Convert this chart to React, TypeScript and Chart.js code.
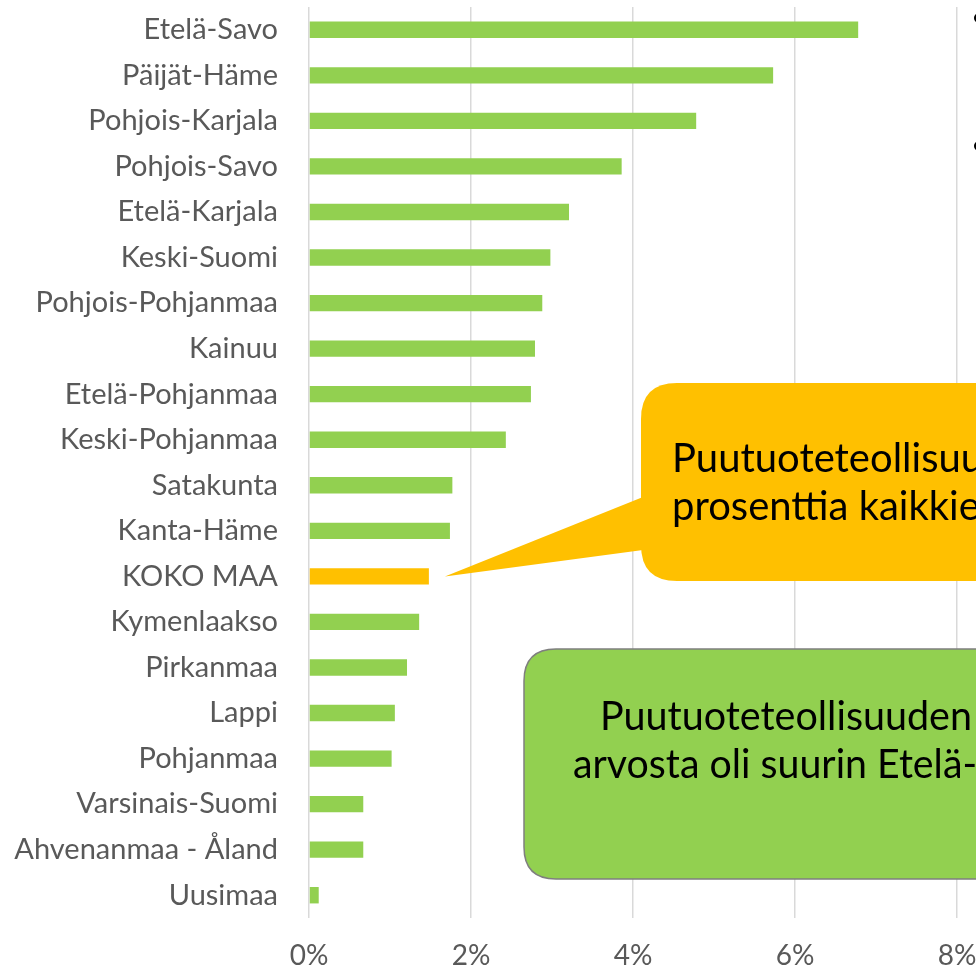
import React, { useEffect, useRef } from "react";
import { Chart, registerables } from "chart.js";

Chart.register(...registerables);

const categories = [
  "Etelä-Savo",
  "Päijät-Häme",
  "Pohjois-Karjala",
  "Pohjois-Savo",
  "Etelä-Karjala",
  "Keski-Suomi",
  "Pohjois-Pohjanmaa",
  "Kainuu",
  "Etelä-Pohjanmaa",
  "Keski-Pohjanmaa",
  "Satakunta",
  "Kanta-Häme",
  "KOKO MAA",
  "Kymenlaakso",
  "Pirkanmaa",
  "Lappi",
  "Pohjanmaa",
  "Varsinais-Suomi",
  "Ahvenanmaa - Åland",
  "Uusimaa",
];

const shares = [
  6.78, 5.73, 4.78, 3.86, 3.21, 2.98, 2.88, 2.79, 2.74, 2.43, 1.77, 1.74, 1.48,
  1.36, 1.21, 1.06, 1.02, 0.67, 0.67, 0.12,
];

const highlightCategory = "KOKO MAA";
const xTicks = [0, 2, 4, 6, 8];

const orangeLines = ["Puutuoteteollisuu", "prosenttia kaikkie"];
const greenLines = ["Puutuoteteollisuuden", "arvosta oli suurin Etelä-"];

const GREEN = "#92D050";
const ORANGE = "#FFC000";
const FONT = "Lato, 'Open Sans', sans-serif";

function roundRectPath(ctx: CanvasRenderingContext2D, x: number, y: number, w: number, h: number, r: number) {
  ctx.beginPath();
  ctx.moveTo(x + r, y);
  ctx.lineTo(x + w - r, y);
  ctx.quadraticCurveTo(x + w, y, x + w, y + r);
  ctx.lineTo(x + w, y + h - r);
  ctx.quadraticCurveTo(x + w, y + h, x + w - r, y + h);
  ctx.lineTo(x + r, y + h);
  ctx.quadraticCurveTo(x, y + h, x, y + h - r);
  ctx.lineTo(x, y + r);
  ctx.quadraticCurveTo(x, y, x + r, y);
  ctx.closePath();
}

const calloutPlugin = {
  id: "callouts",
  afterDraw(chart: any) {
    const ctx: CanvasRenderingContext2D = chart.ctx;
    const xs = chart.scales.x;
    const ys = chart.scales.y;
    const hi = categories.indexOf(highlightCategory);
    const tipX = xs.getPixelForValue(shares[hi]) + 16;
    const tipY = ys.getPixelForValue(hi) + 0;
    ctx.save();
    // orange speech bubble
    const bx = 641, by = 383, bw = 400, bh = 198, br = 36;
    ctx.fillStyle = ORANGE;
    roundRectPath(ctx, bx, by, bw, bh, br);
    ctx.fill();
    ctx.beginPath();
    ctx.moveTo(bx + 2, 497);
    ctx.lineTo(tipX, tipY);
    ctx.lineTo(bx + 2, 550);
    ctx.closePath();
    ctx.fill();
    ctx.fillStyle = "#000000";
    ctx.font = `40px ${FONT}`;
    ctx.textBaseline = "alphabetic";
    ctx.textAlign = "left";
    ctx.fillText(orangeLines[0], 672, 472, 312);
    ctx.fillText(orangeLines[1], 672, 520, 312);

    // green box
    ctx.fillStyle = GREEN;
    ctx.strokeStyle = "#7F7F7F";
    ctx.lineWidth = 1.5;
    roundRectPath(ctx, 524, 649, 500, 230, 32);
    ctx.fill();
    ctx.stroke();
    ctx.fillStyle = "#000000";
    ctx.fillText(greenLines[0], 600, 730, 372);
    ctx.fillText(greenLines[1], 573, 778, 404);

    // bullet dots at top right
    ctx.beginPath();
    ctx.arc(979, 18, 5, 0, Math.PI * 2);
    ctx.arc(979, 146, 5, 0, Math.PI * 2);
    ctx.fill();
    ctx.restore();
  },
};

export default function App() {
  const ref = useRef<HTMLCanvasElement | null>(null);
  useEffect(() => {
    if (!ref.current) return;
    const chart = new Chart(ref.current, {
      type: "bar",
      data: {
        labels: categories,
        datasets: [
          {
            data: shares,
            backgroundColor: categories.map((c) => (c === highlightCategory ? ORANGE : GREEN)),
            barPercentage: 0.36,
            categoryPercentage: 1,
          },
        ],
      },
      options: {
        indexAxis: "y",
        animation: false,
        responsive: true,
        maintainAspectRatio: false,
        layout: { padding: { top: 7, left: 0, right: 19, bottom: 0 } },
        plugins: { legend: { display: false }, tooltip: { enabled: false } },
        scales: {
          x: {
            min: 0,
            max: 8,
            afterBuildTicks: (s: any) => {
              s.ticks = xTicks.map((v) => ({ value: v }));
            },
            afterFit: (s: any) => {
              s.height = 55;
              s.paddingLeft = 0;
              s.paddingRight = 0;
              s.paddingTop = 0;
              s.paddingBottom = 0;
            },
            grid: { color: "#D9D9D9", lineWidth: 1.5, drawTicks: false },
            border: { display: false },
            ticks: {
              padding: 21,
              color: "#595959",
              maxRotation: 0,
              font: { family: FONT, size: 28 },
              callback: (v: any) => `${v}%`,
            },
          },
          y: {
            grid: { display: false, drawTicks: false },
            border: { display: false },
            afterFit: (s: any) => {
              s.width = 309;
              s.paddingTop = 0;
              s.paddingBottom = 0;
              s.paddingLeft = 0;
              s.paddingRight = 0;
            },
            ticks: {
              padding: 31,
              color: "#595959",
              font: { family: FONT, size: 29 },
              autoSkip: false,
            },
          },
        },
      },
      plugins: [calloutPlugin],
    });
    return () => chart.destroy();
  }, []);
  return (
    <div style={{ position: "fixed", left: 0, top: 0, width: 976, height: 973, background: "#fff" }}>
      <canvas ref={ref} />
    </div>
  );
}
